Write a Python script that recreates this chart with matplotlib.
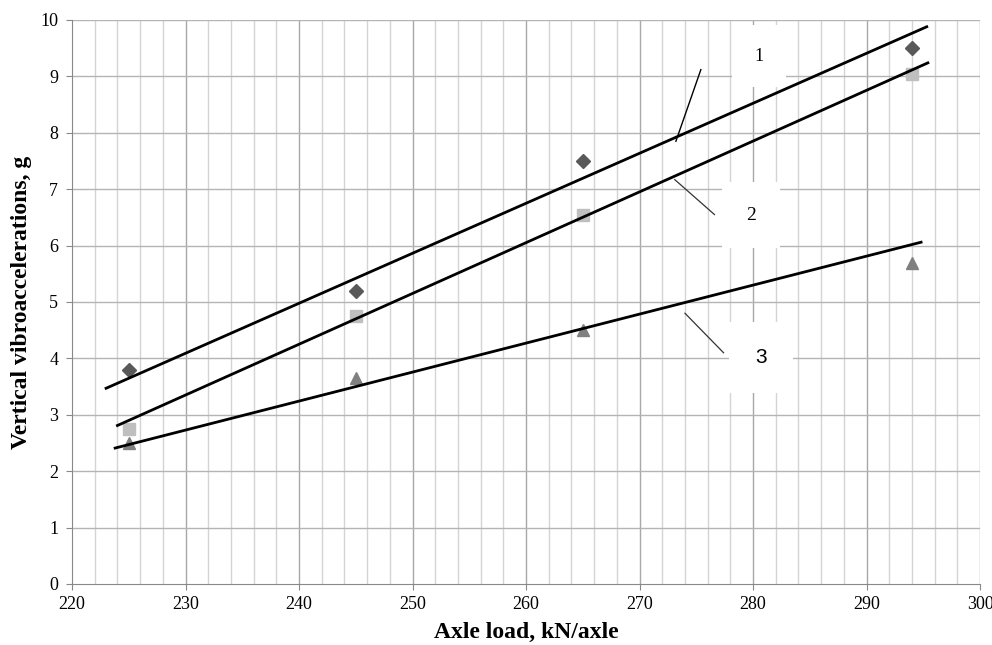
import matplotlib
matplotlib.use("Agg")
import matplotlib.pyplot as plt
import numpy as np

# measured points
loads = [225, 245, 265, 294]
acc_1 = [3.8, 5.2, 7.5, 9.5]
acc_2 = [2.75, 4.75, 6.55, 9.05]
acc_3 = [2.5, 3.65, 4.5, 5.7]

# trend line end points
trend_1_x = [223.0, 295.3]
trend_1_y = [3.47, 9.88]
trend_2_x = [224.0, 295.4]
trend_2_y = [2.81, 9.24]
trend_3_x = [223.8, 294.8]
trend_3_y = [2.41, 6.06]

plt.rcParams['font.family'] = ['Liberation Serif', 'DejaVu Serif']

fig = plt.figure(figsize=(9.92, 6.45), dpi=100)
ax = fig.add_axes([0.0726, 0.0946, 0.9154, 0.8744])

# grid
for xv in np.arange(222, 300, 2):
    if xv % 10 != 0:
        ax.axvline(xv, color='#d4d4d4', lw=1.0, zorder=0)
for xv in np.arange(230, 301, 10):
    ax.axvline(xv, color='#a8a8a8', lw=1.0, zorder=0)
for yv in range(1, 11):
    ax.axhline(yv, color='#b4b4b4', lw=1.0, zorder=0)

ax.plot(loads, acc_1, 'D', color='#595959', ms=7, zorder=3)
ax.plot(loads, acc_2, 's', color='#bfbfbf', ms=9, zorder=3)
ax.plot(loads, acc_3, '^', color='#808080', ms=9, zorder=3)

ax.plot(trend_1_x, trend_1_y, color='black', lw=2.0, zorder=4)
ax.plot(trend_2_x, trend_2_y, color='black', lw=2.0, zorder=4)
ax.plot(trend_3_x, trend_3_y, color='black', lw=2.0, zorder=4)

# curve labels with leader lines
box = dict(boxstyle='square,pad=1.25', fc='white', ec='none')
ax.text(280.5, 9.36, '1', fontsize=13, ha='center', va='center', bbox=box, zorder=2)
ax.plot([275.4, 273.2], [9.12, 7.85], color='black', lw=1.0, zorder=4)
ax.text(279.8, 6.54, '2', fontsize=14, ha='center', va='center', bbox=box, zorder=2)
ax.plot([273.1, 276.6], [7.17, 6.55], color='#333333', lw=0.9, zorder=4)
ax.text(280.7, 4.02, '3', fontsize=15, ha='center', va='center', bbox=box,
        family=['Liberation Sans', 'DejaVu Sans'], zorder=2)
ax.plot([274.0, 277.4], [4.8, 4.1], color='#333333', lw=0.9, zorder=4)

ax.set_xlim(220, 300)
ax.set_ylim(0, 10)
ax.set_xticks(np.arange(220, 301, 10))
ax.set_yticks(np.arange(0, 11, 1))
ax.tick_params(axis='both', labelsize=13, length=4, color='#888888', direction='out')
ax.tick_params(axis='y', pad=6)
ax.tick_params(axis='x', pad=5)
for s in ['top', 'right']:
    ax.spines[s].set_visible(False)
for s in ['left', 'bottom']:
    ax.spines[s].set_color('#888888')

ax.set_xlabel('Axle load, kN/axle', fontsize=17, fontweight='bold', labelpad=6)
ax.set_ylabel('Vertical vibroaccelerations, g', fontsize=17, fontweight='bold', labelpad=6)

fig.savefig('out.png', dpi=100)
